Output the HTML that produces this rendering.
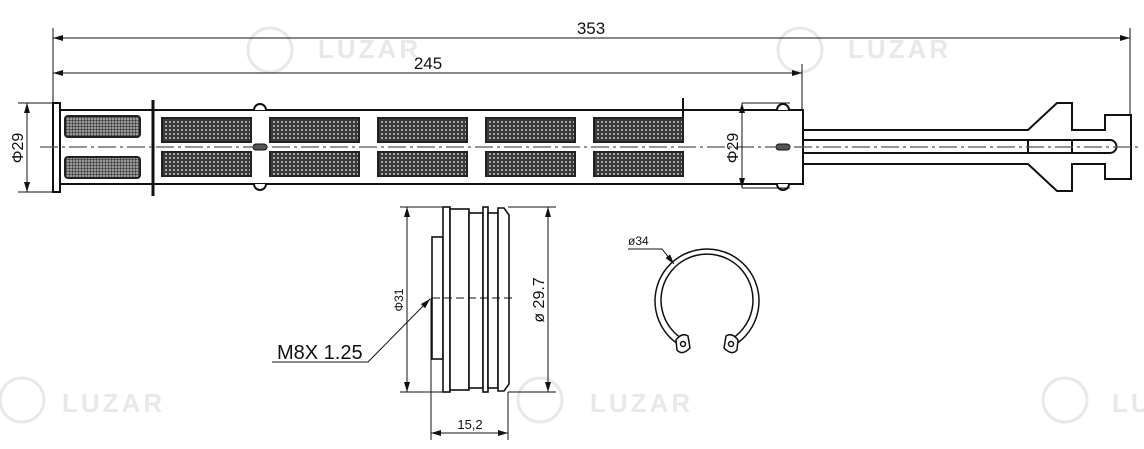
<!DOCTYPE html>
<html><head><meta charset="utf-8"><style>
html,body{margin:0;padding:0;background:#fff;}
svg{display:block;}
text{font-family:"Liberation Sans",sans-serif;fill:#111;}
.wm{fill:#e6e6e6;font-weight:bold;font-size:26px;letter-spacing:3px;}
</style></head><body>
<svg width="1144" height="449" viewBox="0 0 1144 449" xmlns="http://www.w3.org/2000/svg">
<defs>
<pattern id="mesh" width="4" height="4" patternUnits="userSpaceOnUse">
<rect width="4" height="4" fill="#3a3a3a"/><circle cx="2" cy="2" r="1" fill="#c8c8c8"/>
</pattern>
<pattern id="grid" width="3" height="3" patternUnits="userSpaceOnUse">
<rect width="3" height="3" fill="#999"/><path d="M0 0H3M0 0V3" stroke="#222" stroke-width="1"/>
</pattern>
<marker id="ar" markerWidth="10" markerHeight="6" refX="10" refY="3" orient="auto-start-reverse" markerUnits="userSpaceOnUse">
<path d="M0 0L10 3L0 6z" fill="#111"/></marker>
</defs>

<g opacity="0.9">
<circle cx="270" cy="50" r="22" fill="none" stroke="#e6e6e6" stroke-width="3"/>
<text class="wm" x="318" y="58">LUZAR</text>
<circle cx="800" cy="50" r="22" fill="none" stroke="#e6e6e6" stroke-width="3"/>
<text class="wm" x="848" y="58">LUZAR</text>
<circle cx="22" cy="400" r="22" fill="none" stroke="#e6e6e6" stroke-width="3"/>
<text class="wm" x="62" y="412">LUZAR</text>
<circle cx="540" cy="400" r="22" fill="none" stroke="#e6e6e6" stroke-width="3"/>
<text class="wm" x="590" y="412">LUZAR</text>
<circle cx="1065" cy="400" r="22" fill="none" stroke="#e6e6e6" stroke-width="3"/>
<text class="wm" x="1112" y="412">LU</text>
</g>

<g stroke="#111" fill="none" stroke-width="1">
<line x1="53" y1="28" x2="53" y2="105"/>
<line x1="1130" y1="28" x2="1130" y2="115"/>
<line x1="802" y1="64" x2="802" y2="110"/>
<line x1="53" y1="38" x2="1130" y2="38" marker-start="url(#ar)" marker-end="url(#ar)"/>
<line x1="53" y1="73" x2="802" y2="73" marker-start="url(#ar)" marker-end="url(#ar)"/>
<line x1="18" y1="103" x2="53" y2="103"/>
<line x1="18" y1="192" x2="53" y2="192"/>
<line x1="27" y1="103" x2="27" y2="192" marker-start="url(#ar)" marker-end="url(#ar)"/>
</g>
<text x="591" y="34" font-size="17" text-anchor="middle">353</text>
<text x="428" y="69" font-size="17" text-anchor="middle">245</text>
<text transform="translate(23,148) rotate(-90)" font-size="16" text-anchor="middle">Φ29</text>

<g stroke="#111" stroke-width="2" fill="#fff">
<rect x="53" y="103" width="7" height="89"/>
<rect x="60" y="110" width="743" height="74"/>
<line x1="153" y1="100" x2="153" y2="196" stroke-width="3"/>
<line x1="683" y1="98" x2="683" y2="122"/>
<path d="M254 110 A6 6 0 0 1 266 110"/>
<path d="M254 184 A6 6 0 0 0 266 184"/>
<path d="M777 110 A6 6 0 0 1 789 110"/>
<path d="M777 184 A6 6 0 0 0 789 184"/>
</g>
<g stroke="#222" stroke-width="2">
<rect x="65" y="116" width="75" height="21" rx="3" fill="url(#grid)"/>
<rect x="65" y="157" width="75" height="21" rx="3" fill="url(#grid)"/>
<rect x="162" y="118" width="89" height="24" fill="url(#mesh)"/>
<rect x="162" y="152" width="89" height="24" fill="url(#mesh)"/>
<rect x="270" y="118" width="89" height="24" fill="url(#mesh)"/>
<rect x="270" y="152" width="89" height="24" fill="url(#mesh)"/>
<rect x="378" y="118" width="89" height="24" fill="url(#mesh)"/>
<rect x="378" y="152" width="89" height="24" fill="url(#mesh)"/>
<rect x="486" y="118" width="89" height="24" fill="url(#mesh)"/>
<rect x="486" y="152" width="89" height="24" fill="url(#mesh)"/>
<rect x="594" y="118" width="89" height="24" fill="url(#mesh)"/>
<rect x="594" y="152" width="89" height="24" fill="url(#mesh)"/>
</g>
<rect x="253" y="144" width="14" height="6" rx="3" fill="#555" stroke="#111"/>
<rect x="776" y="144" width="14" height="6" rx="3" fill="#555" stroke="#111"/>

<g stroke="#111" stroke-width="2" fill="none">
<path d="M803 130 H1028 L1057 103 H1072 V130 H1105 V115 H1131 V179 H1105 V164 H1072 V191 H1057 L1028 164 H803"/>
<path d="M803 140 H1110 A6.5 6.5 0 0 1 1110 153 H803"/>
<line x1="1028" y1="140" x2="1028" y2="153"/>
<line x1="1072" y1="140" x2="1072" y2="153"/>
</g>
<line x1="40" y1="147" x2="1140" y2="147" stroke="#555" stroke-width="1.2" stroke-dasharray="18 4 3 4"/>

<g stroke="#111" stroke-width="1" fill="none">
<line x1="742" y1="103" x2="790" y2="103"/>
<line x1="742" y1="188" x2="790" y2="188"/>
<line x1="742" y1="103" x2="742" y2="188" marker-start="url(#ar)" marker-end="url(#ar)"/>
</g>
<text transform="translate(738,148) rotate(-90)" font-size="16" text-anchor="middle">Φ29</text>

<g stroke="#111" stroke-width="1.6" fill="#fff">
<rect x="432" y="237" width="11" height="122"/>
<rect x="443" y="207" width="7" height="185"/>
<rect x="450" y="209" width="19" height="181"/>
<rect x="469" y="213" width="14" height="175"/>
<rect x="483" y="207" width="5" height="185"/>
<rect x="488" y="213" width="10" height="175"/>
<path d="M498 208 H504 L509 215 V384 L504 391 H498 Z"/>
</g>
<line x1="432" y1="298" x2="512" y2="298" stroke="#111" stroke-dasharray="8 4"/>
<g stroke="#111" stroke-width="1" fill="none">
<line x1="400" y1="207" x2="443" y2="207"/>
<line x1="400" y1="392" x2="443" y2="392"/>
<line x1="407" y1="207" x2="407" y2="392" marker-start="url(#ar)" marker-end="url(#ar)"/>
<line x1="508" y1="207" x2="556" y2="207"/>
<line x1="508" y1="392" x2="556" y2="392"/>
<line x1="548" y1="207" x2="548" y2="392" marker-start="url(#ar)" marker-end="url(#ar)"/>
<line x1="431" y1="298" x2="431" y2="440"/>
<line x1="508" y1="392" x2="508" y2="440"/>
<line x1="431" y1="433" x2="508" y2="433" marker-start="url(#ar)" marker-end="url(#ar)"/>
<path d="M272 362 H368 L430 299" marker-end="url(#ar)"/>
</g>
<text transform="translate(403,300) rotate(-90)" font-size="12" text-anchor="middle">Φ31</text>
<text transform="translate(544,300) rotate(-90)" font-size="16" text-anchor="middle">ø 29.7</text>
<text x="470" y="429" font-size="13" text-anchor="middle">15,2</text>
<text x="277" y="359" font-size="20">M8X 1.25</text>

<g stroke="#111" stroke-width="1.5" fill="#fff">
<path d="M681 346 A52 52 0 1 1 733 346 L728 341 A46 46 0 1 0 686 341 Z"/>
<path d="M676 340 Q682 332 688 336 L690 348 Q682 356 677 350 Z"/>
<path d="M738 340 Q732 332 726 336 L724 348 Q732 356 737 350 Z"/>
<circle cx="683" cy="344" r="2.5"/>
<circle cx="731" cy="344" r="2.5"/>
</g>
<g stroke="#111" stroke-width="1" fill="none">
<path d="M628 249 H662 L674 264" marker-end="url(#ar)"/>
</g>
<text x="628" y="245" font-size="12">ø34</text>
</svg>
</body></html>
